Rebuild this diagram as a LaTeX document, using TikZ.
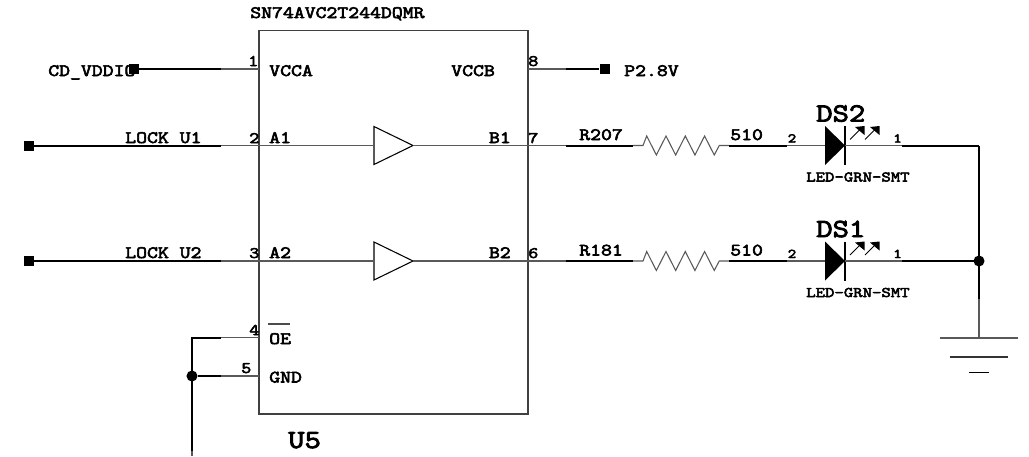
\documentclass[tikz,border=0pt]{standalone}
\usepackage{fontspec}
\usepackage{tikz}
\usetikzlibrary{calc}
\newfontfamily\schfont[FakeBold=3.5,FakeStretch=1.22]{Latin Modern Mono}
\newcommand{\rstep}{9.65}
\tikzset{
  thinwire/.style={line width=1pt,black!65},
  thickwire/.style={line width=1.5pt,black},
  body/.style={line width=1.1pt,black!75},
  term/.style={draw=none,fill=black,minimum size=7.5pt,inner sep=0pt},
  dot/.style={circle,fill=black,minimum size=8.3pt,inner sep=0pt},
  lbl/.style={font=\schfont\fontsize{13}{13}\selectfont,inner sep=0pt},
  pinno/.style={font=\schfont\fontsize{12}{12}\selectfont,inner sep=0pt},
  smallno/.style={font=\schfont\fontsize{10}{10}\selectfont,inner sep=0pt},
  partlbl/.style={font=\schfont\fontsize{11}{11}\selectfont,inner sep=0pt},
  refdes/.style={font=\schfont\fontsize{19.5}{19.5}\selectfont,inner sep=0pt}
}
\begin{document}
\begin{tikzpicture}[x=0.75pt,y=-0.75pt]
  \useasboundingbox (0,0) rectangle (1029,457);
  % chip
  \coordinate (tl) at (259,30.5);
  \coordinate (br) at (528,414);
  \draw[body] (tl) rectangle (br);
  \node[lbl,anchor=base west] (part) at (250,18) {SN74AVC2T244DQMR};
  \node[refdes,anchor=base west] (u5) at (288,448) {U5};
  % pins of the chip
  \foreach \n/\y in {a/69,b/145.5,c/261,d/337.5,e/376}{
    \coordinate (left\n) at (259,\y);
    \coordinate (bend\n) at (221,\y);
  }
  \foreach \n/\y in {a/69,b/145.5,c/261}{
    \coordinate (right\n) at (528,\y);
    \coordinate (out\n) at (566,\y);
  }
  \foreach \t/\y in {VCCA/76,A1/143,A2/258,GND/382.5}{
    \node[lbl,anchor=base west] (in\t) at (269,\y) {\t};
  }
  \node[lbl,anchor=base west] (inOE) at (269,344) {OE};
  \coordinate (oe1) at (268,324);
  \coordinate (oe2) at (290,324);
  \draw[line width=0.8pt,black!70] (oe1) -- (oe2);
  \node[lbl,anchor=base east] (outB1) at (511,143) {B1};
  \node[lbl,anchor=base east] (outB2) at (511,258) {B2};
  \node[lbl,anchor=base west] (outV) at (451,76) {VCCB};
  \node[pinno,anchor=base west] (p1) at (248,66) {1};
  \node[pinno,anchor=base west] (p2) at (249,143) {2};
  \node[pinno,anchor=base west] (p3) at (249,258) {3};
  \node[pinno,anchor=base west] (p4) at (249,335) {4};
  \node[pinno,anchor=base west] (p5) at (241,373) {5};
  \node[pinno,anchor=base west] (p8) at (528,66) {8};
  \node[pinno,anchor=base west] (p7) at (528,143) {7};
  \node[pinno,anchor=base west] (p6) at (528,258) {6};
  % left side
  \node[term] (cd) at (134,69) {};
  \node[lbl,anchor=base west] (cdl) at (48,76) {CD\_VDDIO};
  \node[term] (lock1) at (29,145.5) {};
  \node[term] (lock2) at (29,261) {};
  \node[lbl,anchor=base west] (lockl1) at (125,143) {LOCK\_U1};
  \node[lbl,anchor=base west] (lockl2) at (125,258) {LOCK\_U2};
  \draw[thickwire] (cd) -- (benda);
  \draw[thickwire] (lock1) -- (bendb);
  \draw[thickwire] (lock2) -- (bendc);
  \foreach \n in {a,b,c,d,e}{
    \draw[thinwire] (bend\n) -- (left\n);
  }
  % buffers
  \foreach \n/\y in {b/145.5,c/261}{
    \coordinate (bufa\n) at (374,\y-19);
    \coordinate (bufb\n) at (374,\y+19);
    \coordinate (bufi\n) at (374,\y);
    \coordinate (bufo\n) at (413,\y);
    \draw[line width=0.8pt] (bufa\n) -- (bufo\n) -- (bufb\n) -- cycle;
    \draw[thinwire] (left\n) -- (bufi\n);
    \draw[thinwire] (bufo\n) -- (out\n);
  }
  % VCCB
  \node[term] (pwr) at (604.5,69) {};
  \node[lbl,anchor=base west] (pwrl) at (624,76) {P2.8V};
  \draw[thinwire] (righta) -- (outa);
  \draw[thickwire] (outa) -- (pwr);
  % resistors and leds
  \foreach \n/\y/\r/\d in {b/145.5/R207/DS2,c/261/R181/DS1}{
    \coordinate (ra\n) at (633,\y);
    \coordinate (rb\n) at (729,\y);
    \coordinate (la\n) at (787,\y);
    \coordinate (lb\n) at (825,\y);
    \coordinate (lc\n) at (845,\y);
    \coordinate (ld\n) at (902,\y);
    \coordinate (le\n) at (979,\y);
    \draw[thickwire] (out\n) -- (ra\n);
    \draw[thinwire,line width=0.8pt] (ra\n) -- ++(10,0) -- ++(3.7,-9.5)
      \foreach \k in {1,...,3}{ -- ++(\rstep,19) -- ++(\rstep,-19) }
      -- ++(\rstep,19) -- ++(5,-9.5) -- (rb\n);
    \draw[thickwire] (rb\n) -- (la\n);
    \draw[thinwire] (la\n) -- (lb\n);
    \fill ($(lb\n)+(0,-19.5)$) -- (lc\n) -- ($(lb\n)+(0,19.5)$) -- cycle;
    \draw[line width=0.8pt] ($(lc\n)+(0,-19.5)$) -- ($(lc\n)+(0,19.5)$);
    \draw[thinwire] (lc\n) -- (ld\n);
    \draw[thickwire] (ld\n) -- (le\n);
    % light arrows
    \foreach \x in {0,15}{
      \draw[line width=0.6pt] ($(lc\n)+(\x+5,-6)$) -- ($(lc\n)+(\x+15,-16)$);
      \fill ($(lc\n)+(\x+19.5,-19.5)$) -- ++(-9.5,1) -- ++(9.5,8) -- cycle;
    }
    \node[lbl,anchor=base west] (rn\n) at (579,\y-5.5) {\r};
    \node[lbl,anchor=base west] (rv\n) at (730,\y-5.5) {510};
    \node[smallno,anchor=base west] (pa\n) at (787.5,\y-3) {2};
    \node[smallno,anchor=base west] (pb\n) at (893,\y-3) {1};
    \node[refdes,anchor=base west] (ds\n) at (816,\y-24) {\d};
    \node[partlbl,anchor=base west] (pt\n) at (806,\y+36) {LED-GRN-SMT};
  }
  % right rail and ground
  \coordinate (gs) at (979,299);
  \coordinate (gt) at (979,338);
  \draw[thickwire] (leb) -- (gs);
  \draw[thinwire] (gs) -- (gt);
  \node[dot] (jr) at (lec) {};
  \coordinate (g1a) at (940,338);
  \coordinate (g1b) at (1017.5,338);
  \coordinate (g2a) at (950,357);
  \coordinate (g2b) at (1008,357);
  \coordinate (g3a) at (969,372.5);
  \coordinate (g3b) at (989,372.5);
  \draw[thinwire] (g1a) -- (g1b);
  \draw[line width=0.8pt,black!80] (g2a) -- (g2b);
  \draw[line width=0.6pt] (g3a) -- (g3b);
  % OE and GND tie
  \coordinate (oec) at (192,337.5);
  \coordinate (end) at (192,451);
  \coordinate (endt) at (192,456);
  \node[dot] (jl) at (192,376) {};
  \draw[thickwire] (bendd) -- (oec) -- (end);
  \draw[thinwire] (end) -- (endt);
  \draw[thinwire,black] (jl) -- (bende);
\end{tikzpicture}
\end{document}
